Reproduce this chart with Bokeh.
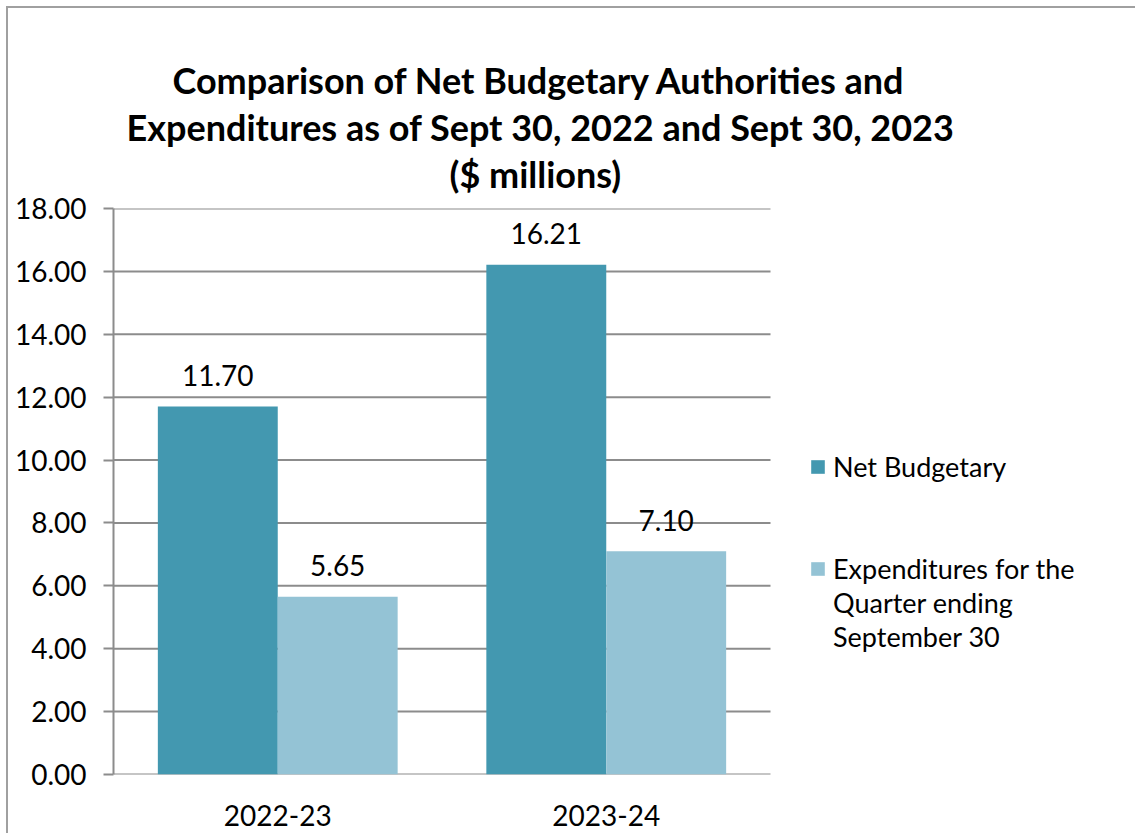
from bokeh.plotting import figure
from bokeh.models import (ColumnDataSource, Range1d, LabelSet, Title,
                          Legend, LegendItem, NumeralTickFormatter, FixedTicker)
from bokeh.core.properties import value
from bokeh.embed import file_html
from bokeh.resources import INLINE

# ---- data ----
years = ["2022-23", "2023-24"]
net_budgetary = [11.70, 16.21]
expenditures = [5.65, 7.10]
y_ticks = [0, 2, 4, 6, 8, 10, 12, 14, 16, 18]
series_names = ["Net Budgetary", "Expenditures for the", "Quarter ending", "September 30"]
title_lines = ["Comparison of Net Budgetary Authorities and",
               "Expenditures as of Sept 30, 2022 and Sept 30, 2023",
               "($ millions)"]

DARK = "#4398B0"
LIGHT = "#94C3D5"
GRID = "#8c8c8c"
FONT = "Lato"

bw = 0.365                      # width of one bar, in category units
centers = [i + 0.5 for i in range(len(years))]

src = ColumnDataSource(dict(
    xn=[c - bw / 2 for c in centers],
    xe=[c + bw / 2 for c in centers],
    net=net_budgetary,
    exp=expenditures,
    net_txt=["%.2f" % v for v in net_budgetary],
    exp_txt=["%.2f" % v for v in expenditures],
))
grid_src = ColumnDataSource(dict(x0=[0] * len(y_ticks), x1=[len(years)] * len(y_ticks),
                                 y=y_ticks))

FRAME_L, FRAME_R_CAT = 113, 770   # plot-area left edge / right end of the categories
W, H = 1135, 833
p = figure(width=W, height=H,
           x_range=Range1d(0, len(years) * (W - FRAME_L) / (FRAME_R_CAT - FRAME_L)),
           y_range=Range1d(0, 18), output_backend="svg", toolbar_location=None,
           title_location=None,
           min_border_left=FRAME_L, min_border_top=208, min_border_right=0,
           min_border_bottom=59)
p.border_fill_alpha = 0
p.background_fill_color = "white"
p.styles = {"background": "linear-gradient(#a0a0a0,#a0a0a0) 6px 6px / 100% 2px no-repeat, "
                          "linear-gradient(#a0a0a0,#a0a0a0) 6px 6px / 2px 100% no-repeat, white"}
p.outline_line_color = None

# horizontal gridlines over the category area only
p.segment(x0="x0", x1="x1", y0="y", y1="y", source=grid_src,
          line_color=GRID, line_width=2, level="underlay")

r1 = p.vbar(x="xn", top="net", width=bw, source=src, fill_color=DARK, line_color=None)
r2 = p.vbar(x="xe", top="exp", width=bw, source=src, fill_color=LIGHT, line_color=None)
# invisible renderer used only for the legend's wrapped label lines / spacers
r_blank = p.vbar(x=[], top=[], width=bw, fill_alpha=0, line_alpha=0)

for xcol, col, txt in (("xn", "net", "net_txt"), ("xe", "exp", "exp_txt")):
    p.add_layout(LabelSet(x=xcol, y=col, text=txt, source=src, y_offset=31,
                          text_align="center", text_baseline="middle",
                          text_font=value(FONT), text_font_size="28px",
                          text_color="black"))

# axes
p.yaxis.ticker = FixedTicker(ticks=y_ticks)
p.yaxis.formatter = NumeralTickFormatter(format="0.00")
p.yaxis.axis_line_color = GRID
p.yaxis.axis_line_width = 2
p.yaxis.major_tick_line_color = GRID
p.yaxis.major_tick_line_width = 2
p.yaxis.major_tick_out = 10
p.yaxis.major_tick_in = 0
p.yaxis.minor_tick_line_color = None
p.yaxis.major_label_standoff = 17
p.yaxis.major_label_text_font = FONT
p.yaxis.major_label_text_font_size = "28px"
p.yaxis.major_label_text_color = "black"

p.xaxis.ticker = FixedTicker(ticks=centers)
p.xaxis.major_label_overrides = {c: y for c, y in zip(centers, years)}
p.xaxis.axis_line_color = None
p.xaxis.major_tick_line_color = None
p.xaxis.minor_tick_line_color = None
p.xaxis.major_label_standoff = 24
p.xaxis.major_label_text_font = FONT
p.xaxis.major_label_text_font_size = "28px"
p.xaxis.major_label_text_color = "black"

p.xgrid.visible = False
p.ygrid.visible = False

# title lines (added bottom line first: later titles stack farther out)
title_offsets = [59, 13, 336]
title_standoffs = [26, -24, 26]
for txt, off, so in reversed(list(zip(title_lines, title_offsets, title_standoffs))):
    p.add_layout(Title(text=txt, align="left", offset=off, standoff=so,
                       text_font=FONT, text_font_size="36px",
                       text_font_style="bold", text_color="black"), "above")

legend = Legend(items=[LegendItem(label=series_names[0], renderers=[r1]),
                       LegendItem(label=" ", renderers=[r_blank]),
                       LegendItem(label="  ", renderers=[r_blank]),
                       LegendItem(label=series_names[1], renderers=[r2]),
                       LegendItem(label=series_names[2], renderers=[r_blank]),
                       LegendItem(label=series_names[3], renderers=[r_blank])],
                location=(696, 121), margin=0, padding=0, spacing=0,
                glyph_width=17, glyph_height=17, label_standoff=7,
                label_height=34,
                label_text_font=FONT, label_text_font_size="27px",
                label_text_color="black",
                border_line_color=None, background_fill_alpha=0)
p.add_layout(legend, "center")

open("out.html", "w").write(file_html(p, INLINE))
